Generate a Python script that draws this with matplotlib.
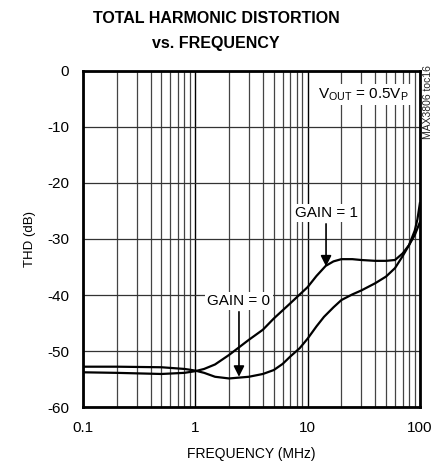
import matplotlib.pyplot as plt
import numpy as np

plt.rcParams['font.family'] = ['Liberation Sans Narrow', 'Liberation Sans', 'DejaVu Sans']

# Data (frequency in MHz, THD in dB)
gain0_freq = [0.1, 0.2, 0.5, 0.8, 0.9, 1.0, 1.2, 1.5, 2.0, 3.0, 4.0, 5.0, 6.0, 7.0, 8.5, 10, 12, 14,
              17, 20, 25, 30, 40, 50, 60, 70, 80, 90, 95, 100]
gain0_thd = [-52.8, -52.8, -52.9, -53.2, -53.35, -53.5, -53.9, -54.6, -54.9, -54.6, -54.1, -53.4, -52.3,
             -51.0, -49.5, -47.8, -45.6, -43.9, -42.2, -40.9, -39.9, -39.2, -37.9, -36.7, -35.2, -33.1,
             -31.1, -28.5, -26.5, -23.6]

gain1_freq = [0.1, 0.2, 0.5, 0.8, 1.0, 1.2, 1.5, 2.0, 3.0, 4.0, 5.0, 7.0, 10, 12, 14.5, 17, 20, 25,
              30, 40, 50, 60, 70, 80, 90, 100]
gain1_thd = [-53.8, -53.9, -54.1, -53.9, -53.6, -53.2, -52.4, -50.7, -48.0, -46.2, -44.2, -41.5, -38.6,
             -36.6, -34.8, -34.0, -33.6, -33.6, -33.75, -33.9, -33.9, -33.75, -32.6, -31.1, -29.3, -27.0]

yticks = [0, -10, -20, -30, -40, -50, -60]
xticks = [0.1, 1, 10, 100]
xticklabels = ['0.1', '1', '10', '100']

fig = plt.figure(figsize=(4.32, 4.70), dpi=100)
ax = fig.add_axes([0.192, 0.134, 0.78, 0.715])

ax.semilogx(gain0_freq, gain0_thd, color='black', lw=1.6, zorder=3, solid_joinstyle='round')
ax.semilogx(gain1_freq, gain1_thd, color='black', lw=1.6, zorder=3, solid_joinstyle='round')

ax.set_xlim(0.1, 100)
ax.set_ylim(-60, 0)
ax.set_xticks(xticks)
ax.set_xticklabels(xticklabels)
ax.set_yticks(yticks)
ax.set_yticklabels([str(v) for v in yticks])

# grid: every 1..9 in each decade, every 10 dB
minor = [m * d for d in [0.1, 1, 10] for m in range(2, 10)]
ax.set_xticks(minor, minor=True)
ax.xaxis.set_minor_formatter(plt.NullFormatter())
ax.grid(True, which='minor', axis='x', color='#444444', lw=0.9)
ax.grid(True, which='major', axis='x', color='black', lw=1.0)
ax.grid(True, which='major', axis='y', color='#333333', lw=0.9)
ax.tick_params(which='both', length=0, labelsize=11, pad=10)
for s in ax.spines.values():
    s.set_linewidth(2)

ax.set_xlabel('FREQUENCY (MHz)', fontsize=10, labelpad=9)
ax.set_ylabel('THD (dB)', fontsize=9.5, labelpad=8)

fig.text(0.5, 0.961, 'TOTAL HARMONIC DISTORTION', ha='center', va='center',
         fontsize=11.5, fontweight='bold')
fig.text(0.5, 0.908, 'vs. FREQUENCY', ha='center', va='center',
         fontsize=11.5, fontweight='bold')

box = dict(facecolor='white', edgecolor='none', pad=1.5)
ax.text(80, -4.2, r'V$_{\mathregular{OUT}}$ = 0.5V$_{\mathregular{P}}$', ha='right', va='center',
        fontsize=11, bbox=box, zorder=4)
ax.text(14.6, -25.4, 'GAIN = 1', ha='center', va='center', fontsize=11, bbox=box, zorder=4)
ax.text(2.45, -41.1, 'GAIN = 0', ha='center', va='center', fontsize=11, bbox=box, zorder=4)

arrow = dict(arrowstyle='-|>', color='black', lw=1.2, mutation_scale=16, shrinkA=0, shrinkB=0)
ax.annotate('', xy=(14.6, -34.9), xytext=(14.6, -27.3), arrowprops=arrow, zorder=4)
ax.annotate('', xy=(2.45, -54.6), xytext=(2.45, -43.0), arrowprops=arrow, zorder=4)

fig.text(0.99, 0.862, 'MAX3806 toc16', rotation=90, ha='center', va='top', fontsize=7.5,
         color='#222222')

fig.savefig('out.png', dpi=100)
